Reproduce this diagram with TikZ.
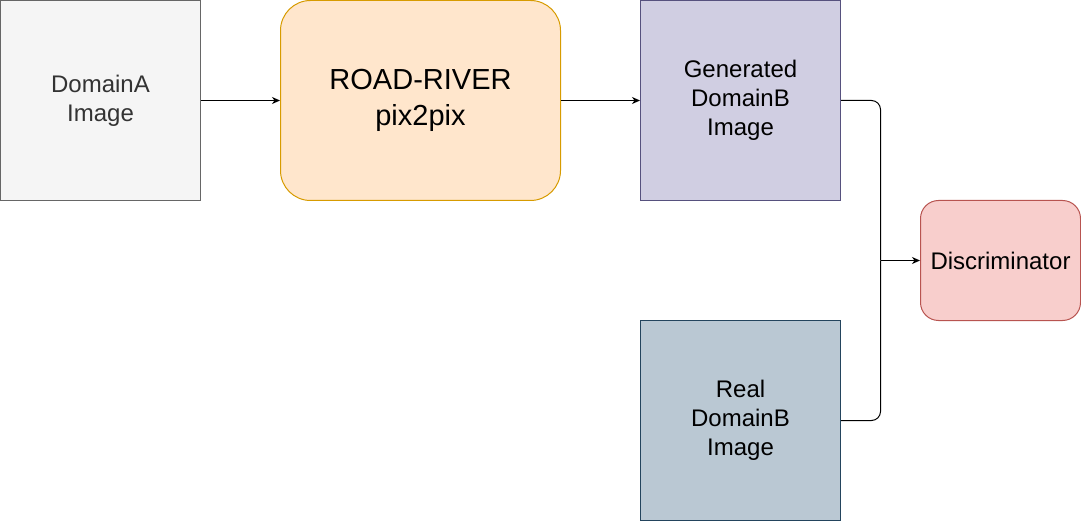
\documentclass[tikz,border=0pt]{standalone}
\usepackage{fontspec}
\setmainfont{Liberation Sans}
\usepackage{tikz}
\usetikzlibrary{arrows.meta}
\definecolor{greyfill}{HTML}{F5F5F5}
\definecolor{greyline}{HTML}{666666}
\definecolor{greytext}{HTML}{333333}
\definecolor{orangefill}{HTML}{FFE6CC}
\definecolor{orangeline}{HTML}{D79B00}
\definecolor{purplefill}{HTML}{D0CEE2}
\definecolor{purpleline}{HTML}{56517E}
\definecolor{slatefill}{HTML}{BAC8D3}
\definecolor{slateline}{HTML}{23445D}
\definecolor{redfill}{HTML}{F8CECC}
\definecolor{redline}{HTML}{B85450}
\tikzstyle{box}=[draw, line width=1pt, inner sep=0pt, align=center, font=\fontsize{24}{29}\selectfont]
\tikzstyle{simple}=[-, draw=black, line width=1pt, rounded corners=9pt]
\tikzstyle{arrow}=[simple, -{Stealth[length=8pt, width=7pt, inset=2.5pt]}]

\begin{document}
\begin{tikzpicture}[x=1pt, y=-1pt]
  \useasboundingbox (-0.5, -0.5) rectangle (1080.5, 520.5);
  \node [style=box, fill=greyfill, draw=greyline, text=greytext, minimum width=200pt, minimum height=200pt] (0) at (100, 100) {DomainA\\Image};
  \node [style=box, fill=orangefill, draw=orangeline, rounded corners=30pt, minimum width=280pt, minimum height=200pt, font=\fontsize{29}{36}\selectfont] (1) at (420, 100) {ROAD-RIVER\\pix2pix};
  \node [style=box, fill=purplefill, draw=purpleline, minimum width=200pt, minimum height=200pt] (2) at (740, 100) {Generated\\DomainB\\Image};
  \node [style=box, fill=slatefill, draw=slateline, minimum width=200pt, minimum height=200pt] (3) at (740, 420) {Real\\DomainB\\Image};
  \node [style=box, fill=redfill, draw=redline, rounded corners=18pt, minimum width=160pt, minimum height=120pt] (4) at (1000, 260) {Discriminator};
  \coordinate (5) at (880, 260);
  \draw [style=arrow] (0) to (1);
  \draw [style=arrow] (1) to (2);
  \draw [style=simple] (2.east) -| (5);
  \draw [style=simple] (3.east) -| (5);
  \draw [style=arrow] (5) to (4);
\end{tikzpicture}
\end{document}
